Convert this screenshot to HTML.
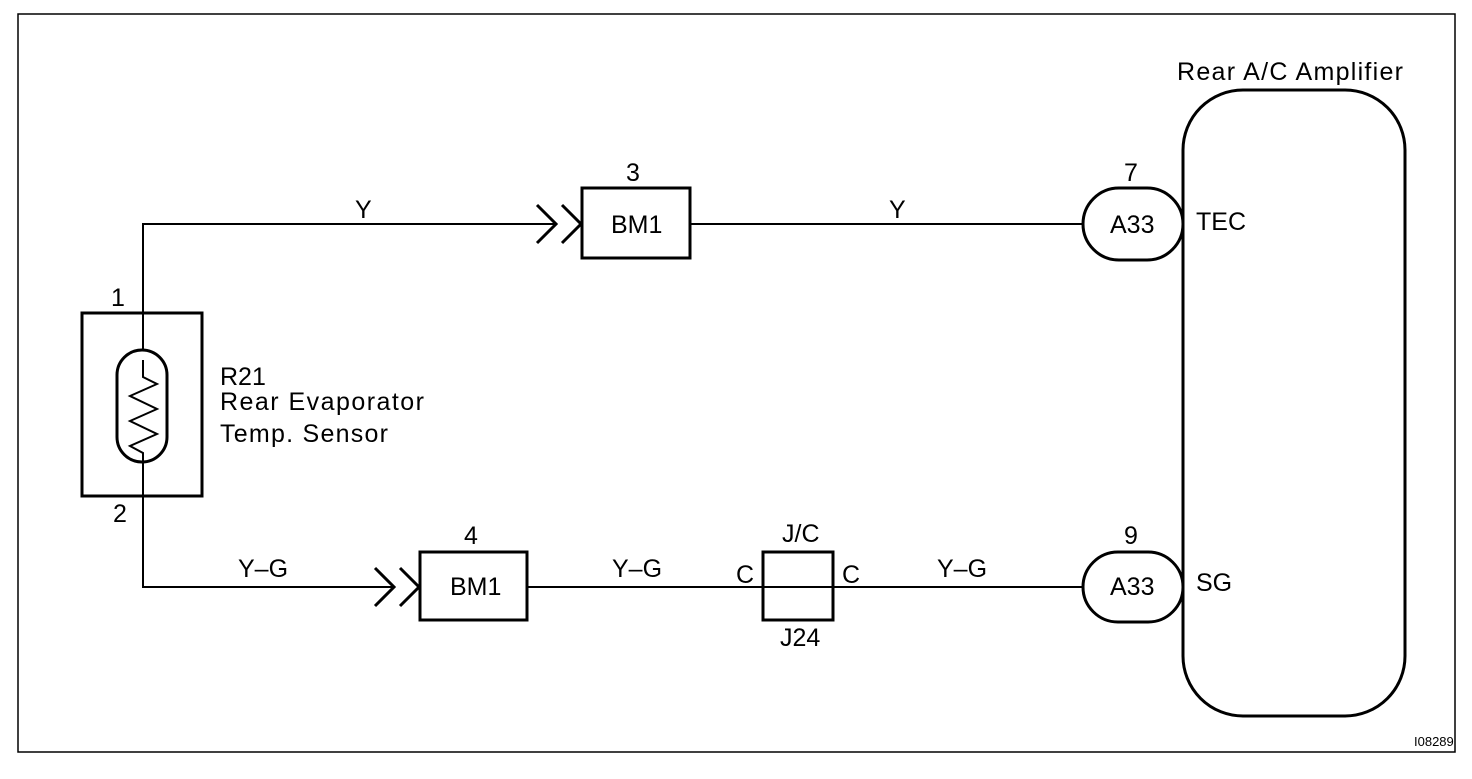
<!DOCTYPE html>
<html><head><style>
html,body{margin:0;padding:0;background:#fff}
svg text{font-family:"Liberation Sans",Arial,sans-serif;fill:#000}
</style></head><body>
<svg width="1472" height="774" viewBox="0 0 1472 774" xmlns="http://www.w3.org/2000/svg">
<rect x="18" y="14" width="1437" height="738" fill="none" stroke="#000" stroke-width="1.5"/>
<g fill="none" stroke="#000" stroke-width="3">
<rect x="82" y="313" width="120" height="183"/>
<rect x="117" y="350" width="50" height="112" rx="25"/>
<rect x="582" y="188" width="108" height="70"/>
<rect x="420" y="552" width="107" height="68"/>
<rect x="763" y="552" width="70" height="68"/>
<rect x="1083" y="188" width="100" height="72" rx="36"/>
<rect x="1083" y="552" width="100" height="70" rx="35"/>
<rect x="1183" y="90" width="222" height="626" rx="60"/>
<polyline points="537,205 556,224 537,243"/>
<polyline points="562,205 581,224 562,243"/>
<polyline points="375,568 394,587 375,606"/>
<polyline points="400,568 419,587 400,606"/>
</g>
<g fill="none" stroke="#000" stroke-width="2">
<polyline points="143,350 143,224 556,224"/>
<line x1="690" y1="224" x2="1083" y2="224"/>
<polyline points="143,360 143,377 157,384 130,396 157,409 130,421 157,434 130,446 143,453 143,587 394,587"/>
<line x1="527" y1="587" x2="1083" y2="587"/>
</g>
<g font-size="25">
<text x="111" y="306">1</text>
<text x="113" y="522">2</text>
<text x="220" y="385">R21</text>
<text x="220" y="410" textLength="204">Rear Evaporator</text>
<text x="220" y="442" textLength="168">Temp. Sensor</text>
<text x="355" y="218">Y</text>
<text x="626" y="181">3</text>
<text x="611" y="233">BM1</text>
<text x="889" y="218">Y</text>
<text x="1124" y="181">7</text>
<text x="1110" y="233">A33</text>
<text x="1196" y="230">TEC</text>
<text x="1177" y="80" textLength="226">Rear A/C Amplifier</text>
<text x="238" y="577">Y–G</text>
<text x="464" y="544">4</text>
<text x="450" y="595">BM1</text>
<text x="612" y="577">Y–G</text>
<text x="736" y="583">C</text>
<text x="842" y="583">C</text>
<text x="782" y="542">J/C</text>
<text x="780" y="646">J24</text>
<text x="937" y="577">Y–G</text>
<text x="1124" y="544">9</text>
<text x="1110" y="595">A33</text>
<text x="1196" y="591">SG</text>
<text x="1414" y="746" font-size="13">I08289</text>
</g>
</svg>
</body></html>
